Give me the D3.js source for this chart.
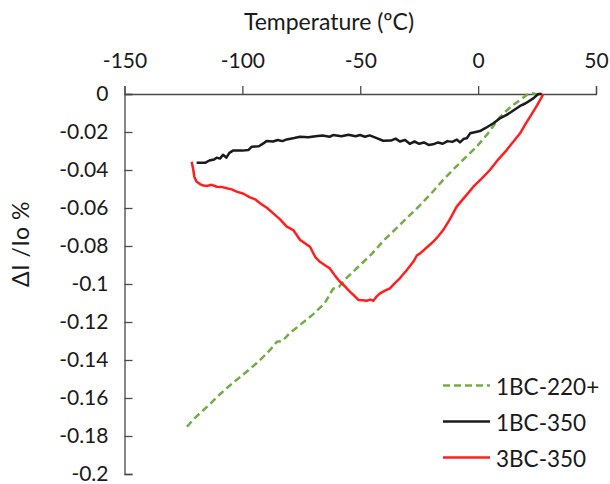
<html lang="en">
<head>
<meta charset="UTF-8">
<script src="https://d3js.org/d3.v7.min.js"></script>
<style>
  body { margin: 0; background: #fff; }
  text { font-family: Lato, "Open Sans", sans-serif; fill: #1a1a1a; }
</style>
</head>
<body>
<script>
// x ticks and y ticks
const xTicks = [-150, -100, -50, 0, 50];
const yTicks = [0, -0.02, -0.04, -0.06, -0.08, -0.1, -0.12, -0.14, -0.16, -0.18, -0.2];
const seriesNames = ["1BC-220+", "1BC-350", "3BC-350"];

// [temperature, dI/Io]
const green220 = [[-123.6,-0.1750],[-123,-0.1745],[-121.5,-0.1722],[-118,-0.168],[-114,-0.1635],[-109.5,-0.158],
  [-104,-0.152],[-99,-0.147],[-93.9,-0.1416],[-90,-0.137],[-87,-0.133],[-85.4,-0.1304],[-83,-0.1300],[-80,-0.126],
  [-75,-0.121],[-70,-0.116],[-65,-0.110],[-61.5,-0.1025],[-59,-0.1015],[-56,-0.097],[-50,-0.090],[-45,-0.084],
  [-40,-0.077],[-34.5,-0.0705],[-30,-0.065],[-25,-0.059],[-20,-0.0525],[-14.9,-0.0453],[-10,-0.039],[-5,-0.033],
  [-0.6,-0.0277],[4,-0.021],[9.3,-0.012],[14,-0.0065],[18,-0.003],[20.6,-0.0005],[22.5,0.0005],[24.5,0],[26,-0.0005]];

const black350 = [[-119.4,-0.0362],[-115.8,-0.0362],[-114,-0.0350],[-112,-0.0345],[-110.9,-0.0335],[-109.5,-0.034],
  [-108.2,-0.032],[-106.8,-0.0335],[-105.5,-0.031],[-104,-0.0298],[-100,-0.0298],[-97.5,-0.0295],[-96,-0.0277],
  [-93,-0.0275],[-91.1,-0.026],[-89.7,-0.0247],[-87,-0.025],[-85,-0.0242],[-83,-0.0248],[-81.2,-0.0239],[-78,-0.0232],
  [-75.5,-0.0225],[-72,-0.0228],[-69,-0.0222],[-66,-0.0218],[-63,-0.0225],[-61.5,-0.0216],[-58,-0.0222],[-55,-0.0214],
  [-52,-0.0222],[-50.1,-0.0216],[-48,-0.0225],[-46,-0.0218],[-43,-0.0232],[-40.3,-0.0246],[-37,-0.0245],[-35,-0.0235],
  [-33.2,-0.0250],[-31,-0.0242],[-29,-0.0262],[-27,-0.0250],[-25,-0.0262],[-23,-0.0255],[-21,-0.0268],[-19.1,-0.0265],
  [-17,-0.0255],[-15,-0.0262],[-13,-0.0248],[-11,-0.0252],[-9,-0.0240],[-7.7,-0.0255],[-6,-0.0235],[-4.8,-0.0233],
  [-3.4,-0.0207],[-1,-0.0200],[0.8,-0.0195],[3,-0.018],[6.5,-0.0154],[9,-0.013],[12.1,-0.011],[14,-0.0095],
  [17.8,-0.0063],[20,-0.005],[23.4,-0.0023],[25.5,0],[27,0]];

const red350 = [[-121.5,-0.0356],[-120.8,-0.040],[-120.4,-0.0435],[-119.5,-0.046],[-118,-0.0474],[-116.5,-0.0482],
  [-115.1,-0.0484],[-113,-0.0478],[-110.9,-0.0488],[-108.5,-0.0490],[-106.6,-0.0496],[-104.5,-0.0502],[-102.4,-0.0514],
  [-99.5,-0.0525],[-96.8,-0.0544],[-94.5,-0.0555],[-92.5,-0.0575],[-89.5,-0.0600],[-86.9,-0.0628],[-84,-0.0660],
  [-81.2,-0.0698],[-78.4,-0.0716],[-75.5,-0.0768],[-73,-0.0790],[-71.3,-0.0804],[-69,-0.0860],[-67.1,-0.0883],
  [-64.5,-0.0905],[-62.9,-0.0918],[-60.5,-0.0960],[-58.6,-0.0988],[-56.5,-0.1012],[-54.4,-0.1040],[-52.5,-0.1062],
  [-50.8,-0.1084],[-49,-0.1085],[-47.3,-0.1088],[-45.8,-0.1082],[-44.4,-0.1088],[-43,-0.1065],[-41.6,-0.1049],
  [-39.5,-0.1035],[-37.4,-0.1023],[-35.3,-0.0995],[-33.2,-0.0970],[-30.5,-0.0930],[-27.5,-0.0883],[-26,-0.0850],
  [-24.6,-0.0839],[-21.8,-0.0808],[-19,-0.0777],[-17,-0.0750],[-14.8,-0.0716],[-12,-0.066],[-9.1,-0.0593],
  [-5.5,-0.054],[-2,-0.0488],[1.5,-0.0445],[5,-0.0400],[8.5,-0.0345],[12.1,-0.0295],[15,-0.0250],[17.8,-0.0207],
  [20,-0.0160],[22,-0.0120],[25,-0.0060],[27.7,0]];

const width = 610, height = 484;
const svg = d3.select("body").append("svg").attr("width", width).attr("height", height);

const x = d3.scaleLinear().domain([-150, 50]).range([124.5, 596]);
const y = d3.scaleLinear().domain([0, -0.2]).range([94, 474]);
const axisColor = "#4a4a4a";

// x axis on top, ticks pointing up
const xAxis = svg.append("g")
  .attr("transform", "translate(0,94)")
  .call(d3.axisTop(x).tickValues(xTicks).tickSize(8).tickPadding(18).tickFormat(d => String(d)));
xAxis.select(".domain").attr("stroke", axisColor).attr("stroke-width", 1.3);
xAxis.selectAll(".tick line").attr("stroke", axisColor).attr("stroke-width", 1.3);
xAxis.selectAll("text").attr("font-size", 21).attr("font-family", "Lato").attr("fill", "#1a1a1a");

// y axis, ticks pointing right
const yAxis = svg.append("g")
  .attr("transform", "translate(124.5,0)")
  .call(d3.axisLeft(y).tickValues(yTicks).tickSize(-8).tickPadding(16).tickFormat(d => String(+d.toFixed(2))));
yAxis.select(".domain").attr("stroke", axisColor).attr("stroke-width", 1.3);
yAxis.selectAll(".tick line").attr("stroke", axisColor).attr("stroke-width", 1.3);
yAxis.selectAll("text").attr("font-size", 21).attr("font-family", "Lato").attr("fill", "#1a1a1a");

// titles
svg.append("text").attr("x", 329).attr("y", 30).attr("text-anchor", "middle")
  .attr("font-size", 23).text("Temperature (ºC)");
svg.append("text").attr("transform", "translate(29,244) rotate(-90)").attr("text-anchor", "middle")
  .attr("font-size", 23).attr("letter-spacing", 0.5).text("ΔI /Io %");

const line = d3.line().x(d => x(d[0])).y(d => y(d[1]));

const series = [
  { name: seriesNames[0], data: green220, color: "#72ad44", dash: "7,4" },
  { name: seriesNames[1], data: black350, color: "#1a1a1a", dash: null },
  { name: seriesNames[2], data: red350, color: "#ff1f1f", dash: null }
];

series.forEach(s => {
  svg.append("path").datum(s.data)
    .attr("d", line)
    .attr("fill", "none")
    .attr("stroke", s.color)
    .attr("stroke-width", 2.5)
    .attr("stroke-linejoin", "round")
    .attr("stroke-dasharray", s.dash);
});

// legend
const legend = svg.append("g");
series.forEach((s, i) => {
  const ly = 385.5 + i * 36;
  legend.append("line").attr("x1", 443).attr("x2", 490).attr("y1", ly).attr("y2", ly)
    .attr("stroke", s.color).attr("stroke-width", 2.5).attr("stroke-dasharray", s.dash);
  legend.append("text").attr("x", 496).attr("y", ly + 9).attr("font-size", 22.5).text(s.name);
});
</script>
</body>
</html>
